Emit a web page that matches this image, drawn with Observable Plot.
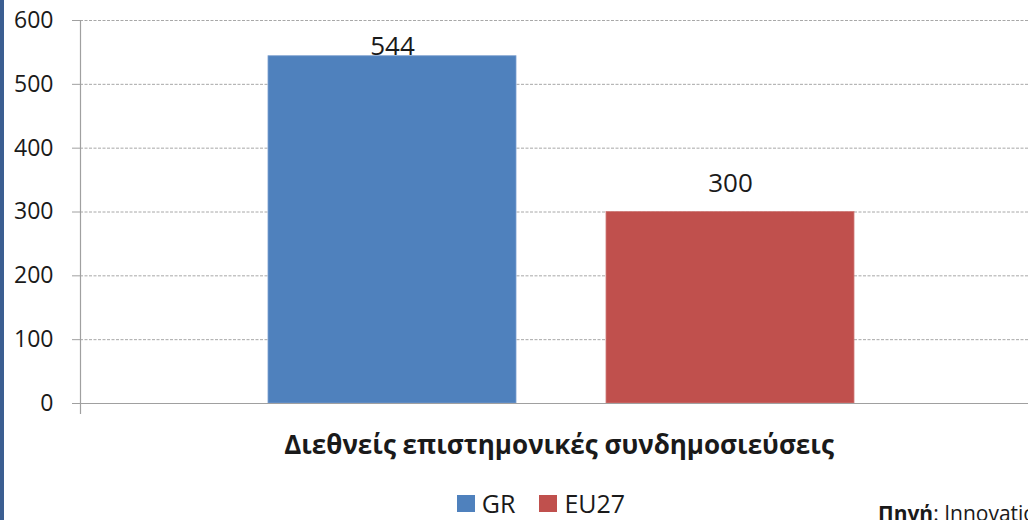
<!DOCTYPE html>
<html>
<head>
<meta charset="utf-8">
<script src="https://cdn.jsdelivr.net/npm/d3@7"></script>
<script src="https://cdn.jsdelivr.net/npm/@observablehq/plot@0.6"></script>
<style>
  html, body { margin: 0; padding: 0; background: #fff; }
  #wrap { position: relative; width: 1028px; height: 520px; overflow: hidden; font-family: "Open Sans", sans-serif; color: #1a1a1a; }
  #strip { position: absolute; left: 0; top: 0; width: 4px; height: 520px; background: #3b5e91; }
  #chart { position: absolute; left: 0; top: 0; }
  #xtitle { position: absolute; left: 0; width: 1118px; top: 428px; text-align: center; font-weight: bold; font-size: 26px; line-height: 32px; white-space: nowrap; }
  #legend { position: absolute; left: 0; width: 1082px; top: 489px; display: flex; justify-content: center; align-items: center; font-size: 25px; line-height: 28px; }
  #legend .item { display: inline-flex; align-items: center; margin: 0 12px; }
  #legend .sw { display: inline-block; width: 18px; height: 17px; margin-right: 7px; }
  #source { position: absolute; left: 878px; top: 499px; font-size: 21px; white-space: nowrap; line-height: 28px; }
</style>
</head>
<body>
<div id="wrap">
  <div id="chart"></div>
  <div id="strip"></div>
  <div id="xtitle"></div>
  <div id="legend"></div>
  <div id="source"></div>
</div>
<script>
const categories = ["GR", "EU27"];
const values = [544, 300];
const colors = ["#4f81bd", "#c0504d"];
const edgeColors = ["#7a9fcf", "#cf7a78"];
const yTicks = [0, 100, 200, 300, 400, 500, 600];
const xTitle = "Διεθνείς επιστημονικές συνδημοσιεύσεις";
const sourceLabel = "Πηγή";
const sourceText = ": Innovation Union Scoreboard";

const data = categories.map((c, i) => ({series: c, value: values[i], edge: edgeColors[i]}));

const plot = Plot.plot({
  width: 1028,
  height: 425,
  marginLeft: 80,
  marginRight: 0,
  marginTop: 20,
  marginBottom: 22,
  x: {domain: categories, range: [80, 1043], paddingInner: 0.266, paddingOuter: 0.556, axis: null},
  y: {domain: [0, 600]},
  color: {domain: categories, range: colors},
  style: {fontFamily: "Open Sans, sans-serif", background: "transparent", overflow: "visible"},
  marks: [
    Plot.ruleY(yTicks.filter(d => d > 0), {stroke: "#a8a8a8", strokeDasharray: "3,1.5", strokeWidth: 1}),
    Plot.barY(data, {x: "series", y: "value", fill: "series", stroke: "edge", strokeWidth: 0.8}),
    Plot.ruleY([0], {stroke: "#a0a0a0", strokeWidth: 1.2}),
    Plot.frame({anchor: "left", stroke: "#a0a0a0", strokeWidth: 1.2, insetBottom: -10}),
    Plot.axisY({ticks: yTicks, tickSize: 8, tickPadding: 19, fontSize: 23, stroke: "#a0a0a0", fill: "#1a1a1a", label: null, tickFormat: d => String(d)}),
    Plot.text(data, {x: "series", y: d => Math.min(d.value + 45, 559), text: d => String(d.value), fontSize: 26, fill: "#1a1a1a", lineAnchor: "middle"})
  ]
});
document.getElementById("chart").appendChild(plot);

document.getElementById("xtitle").textContent = xTitle;

const legend = document.getElementById("legend");
categories.forEach((c, i) => {
  const item = document.createElement("span");
  item.className = "item";
  const sw = document.createElement("span");
  sw.className = "sw";
  sw.style.background = colors[i];
  const t = document.createElement("span");
  t.textContent = c;
  item.appendChild(sw);
  item.appendChild(t);
  legend.appendChild(item);
});

const src = document.getElementById("source");
const b = document.createElement("b");
b.textContent = sourceLabel;
src.appendChild(b);
src.appendChild(document.createTextNode(sourceText));
</script>
</body>
</html>
